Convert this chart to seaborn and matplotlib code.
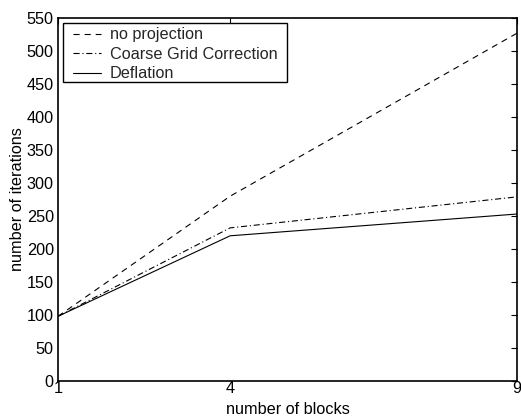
import matplotlib
matplotlib.use("Agg")
import matplotlib.pyplot as plt
from matplotlib.patches import Rectangle
from matplotlib.transforms import IdentityTransform
import seaborn as sns
import pandas as pd

blocks = [1, 4, 9]
no_projection = [98, 280, 527]
coarse_grid = [98, 232, 279]
deflation = [98, 220, 253]
series_names = ["no projection", "Coarse Grid Correction", "Deflation"]
x_ticks = [1, 4, 9]
y_ticks = list(range(0, 551, 50))

rows = []
for name, vals in zip(series_names, [no_projection, coarse_grid, deflation]):
    for b, v in zip(blocks, vals):
        rows.append({"blocks": b, "iterations": v, "method": name})
df = pd.DataFrame(rows)

sns.set_theme(style="white")
plt.rcParams["font.family"] = ["Liberation Sans", "DejaVu Sans"]

W, H = 521, 419
fig = plt.figure(figsize=(W / 100, H / 100), dpi=100)
ax = fig.add_axes([58 / W, 1 - 381 / H, (517 - 58) / W, (381 - 18) / H])

sns.lineplot(data=df, x="blocks", y="iterations", hue="method", style="method",
             hue_order=series_names, style_order=series_names,
             palette=["black", "black", "black"],
             dashes={"no projection": (5.5, 4.5),
                     "Coarse Grid Correction": (5.5, 2.5, 1, 2.5),
                     "Deflation": ""},
             linewidth=0.8, ax=ax, legend=True)

ax.set_xlim(1, 9)
ax.set_ylim(0, 550)
ax.set_xticks(x_ticks)
ax.set_yticks(y_ticks)
ax.tick_params(direction="in", length=4, width=0.8, top=True, right=True,
               labelsize=11.7, colors="black")
ax.tick_params(axis="x", pad=0)
ax.tick_params(axis="y", pad=3)
for s in ax.spines.values():
    s.set_color("black")
    s.set_linewidth(1.2)
ax.set_xlabel("number of blocks", fontsize=11.7, color="black", labelpad=4.5)
ax.set_ylabel("number of iterations", fontsize=11.7, color="black", labelpad=1)

# legend placed with its contents starting at the handle; frame drawn manually
leg = ax.legend(loc="upper left",
                bbox_to_anchor=((73 - 58) / (517 - 58), 1 - (27.5 - 18) / (381 - 18)),
                fontsize=11.7, frameon=False, borderaxespad=0, borderpad=0,
                handlelength=1.7, handletextpad=0.55, labelspacing=0.27)
for line in leg.get_lines():
    line.set_linewidth(0.8)
leg.set_zorder(6)

fig.canvas.draw()
bb = leg.get_window_extent()
padx, pad_top, pad_bot = 10, 4.5, 0.8
rect = Rectangle((bb.x0 - padx, bb.y0 - pad_bot), bb.width + 2 * padx,
                 bb.height + pad_top + pad_bot,
                 transform=IdentityTransform(), facecolor="white", edgecolor="black",
                 linewidth=1.0, zorder=5)
ax.add_artist(rect)

fig.savefig("out.png", dpi=100)
